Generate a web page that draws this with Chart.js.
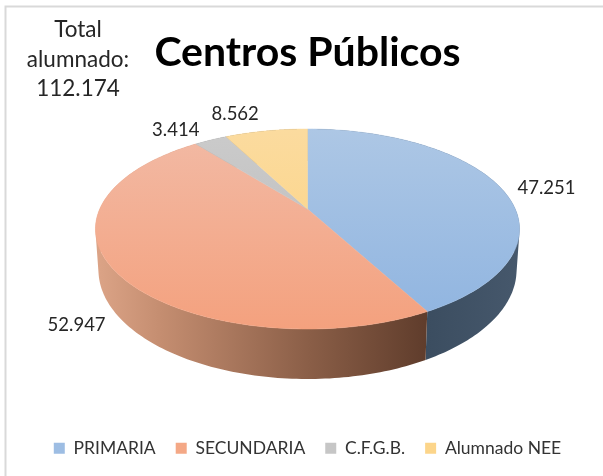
<!DOCTYPE html>
<html><head><meta charset="utf-8">
<style>html,body{margin:0;padding:0;background:#fff}canvas{display:block}</style>
<script src="https://cdn.jsdelivr.net/npm/chart.js@4"></script>
</head><body><canvas id="c" width="603" height="476"></canvas>
<script>
const categories = ['PRIMARIA','SECUNDARIA','C.F.G.B.','Alumnado NEE'];
const values = [47251,52947,3414,8562];
const titleText = 'Centros Públicos';
const totalLines = ['Total','alumnado:','112.174'];
const legendColors = ['#9dbde3','#f4a886','#c6c6c6','#fcd58a'];
const topStops = [['#adc7e5','#8fb4e0'],['#f2baa5','#f4a17e'],['#cbcbcb','#b9b9b9'],['#fbdb9f','#fdd27c']];
const sideStops = [[['#3b4d60',0],['#46586c',1]],[['#dca487',0],['#c48d70',0.2],['#8a5e47',0.65],['#603d2c',1]],[['#777',0],['#777',1]],[['#8a7040',0],['#8a7040',1]]];
const labelOffsets = [[47,1],[-36,57],[-35,-10],[-31,-17]];
const fmt = n => String(n).replace(/\B(?=(\d{3})+$)/g,'.');
const G = {cx:307.5,cy:229,rx:212,ry:100,botCy:270,botRx:209,botRy:109,p:0.2,a:0.98};
function proj(angle){
  const th = angle + Math.PI/2, u = Math.sin(th), v = -Math.cos(th), w = 1 - G.p*v;
  return {X:G.a*u/w, Y:(v-G.p)/w};
}
const topPt = a => {const q=proj(a);return [G.cx+G.rx*q.X,G.cy+G.ry*q.Y];};
const botPt = a => {const q=proj(a);return [G.cx+G.botRx*q.X,G.botCy+G.botRy*q.Y];};
const apex = () => [G.cx, G.cy - G.ry*G.p];
function addQuad(ctx,a,b,c,d){
  const pts=[a,b,c,d];
  let s=0;
  for(let i=0;i<4;i++){const p=pts[i],q=pts[(i+1)%4];s+=p[0]*q[1]-q[0]*p[1];}
  if(s<0)pts.reverse();
  ctx.moveTo(pts[0][0],pts[0][1]);
  for(let i=1;i<4;i++)ctx.lineTo(pts[i][0],pts[i][1]);
  ctx.closePath();
}
const pie3d = {
  id:'pie3d',
  beforeDatasetDraw(chart){
    const ctx = chart.ctx, arcs = chart.getDatasetMeta(0).data, N = 160;
    arcs.forEach((arc,i)=>{
      const g = ctx.createLinearGradient(i===1?96:425,0,i===1?425:520,0);
      sideStops[i].forEach(s=>g.addColorStop(s[1],s[0]));
      ctx.beginPath();
      for(let k=0;k<N;k++){
        const d=(arc.endAngle-arc.startAngle)/N,a0=arc.startAngle+d*k,a1=a0+d;
        addQuad(ctx,topPt(a0),topPt(a1),botPt(a1),botPt(a0));
      }
      ctx.fillStyle=g;ctx.fill('nonzero');
    });
    arcs.forEach((arc,i)=>{
      const g = ctx.createLinearGradient(0,G.cy-G.ry,0,G.cy+G.ry);
      g.addColorStop(0,topStops[i][0]);g.addColorStop(1,topStops[i][1]);
      ctx.beginPath();
      const c=apex();ctx.moveTo(c[0],c[1]);
      for(let k=0;k<=N;k++){const a=arc.startAngle+(arc.endAngle-arc.startAngle)*k/N,p=topPt(a);ctx.lineTo(p[0],p[1]);}
      ctx.closePath();ctx.fillStyle=g;ctx.fill();
      ctx.strokeStyle=g;ctx.lineWidth=0.5;ctx.stroke();
    });
    return false;
  },
  afterDraw(chart){
    const ctx = chart.ctx, arcs = chart.getDatasetMeta(0).data;
    ctx.save();
    ctx.strokeStyle='#d9d9d9';ctx.lineWidth=2;
    ctx.strokeRect(5.5,6.5,600,600);
    ctx.fillStyle='#262626';ctx.textAlign='center';ctx.textBaseline='middle';
    ctx.font='18.5px Lato';
    arcs.forEach((arc,i)=>{
      const p=topPt((arc.startAngle+arc.endAngle)/2);
      ctx.fillText(fmt(values[i]),p[0]+labelOffsets[i][0],p[1]+labelOffsets[i][1]);
    });
    ctx.font='22.5px Lato';
    totalLines.forEach((t,i)=>ctx.fillText(t,78,30+i*29.5));
    ctx.restore();
  }
};
new Chart(document.getElementById('c'),{
  type:'pie',
  data:{labels:categories,datasets:[{data:values,backgroundColor:legendColors,borderWidth:0}]},
  plugins:[pie3d],
  options:{
    responsive:false,animation:false,rotation:0,
    layout:{padding:{left:12,right:0,top:0,bottom:9}},
    plugins:{
      tooltip:{enabled:false},
      title:{display:true,text:titleText,color:'#000',font:{family:'Lato',size:41,weight:'bold'},padding:{top:28,bottom:10}},
      legend:{display:true,position:'bottom',labels:{font:{family:'Lato',size:17.5},color:'#333',boxWidth:11,boxHeight:11,padding:20}}
    }
  }
});
</script></body></html>
